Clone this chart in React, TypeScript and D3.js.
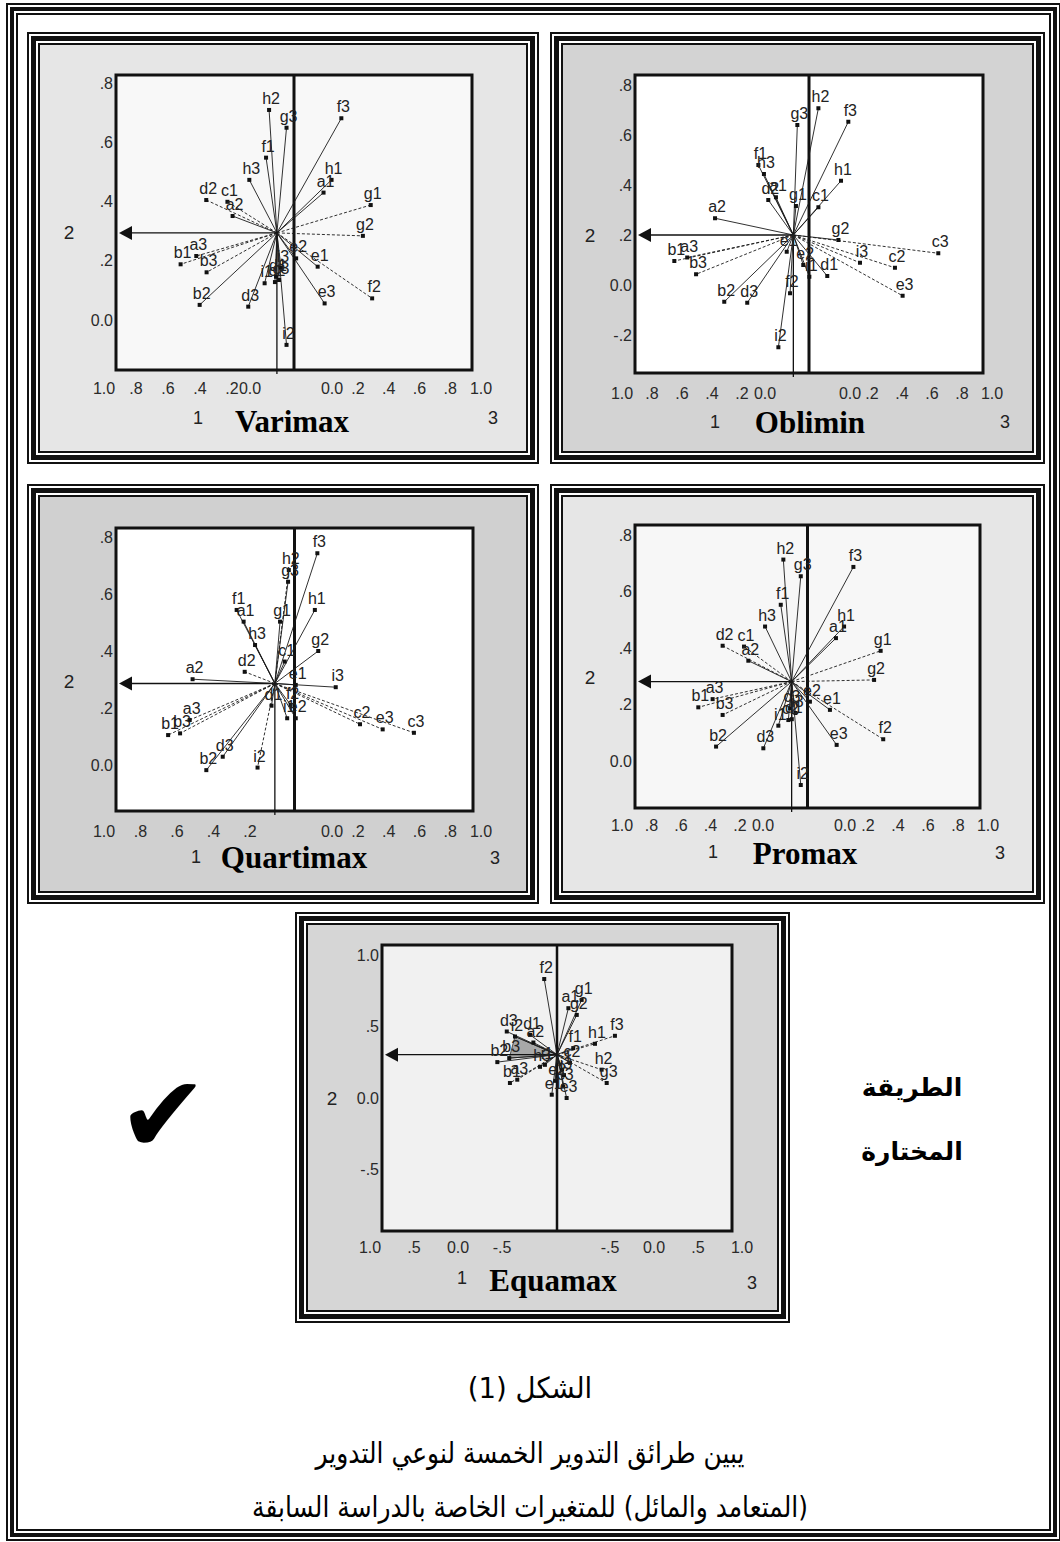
import React from "react";
import * as d3 from "d3";

type Pt = [string, number, number];

// loadings (x: horizontal position, y: value on axis 2)
const varimaxHub: [number, number] = [-0.096, 0.294];
const varimaxPts: Pt[] = [
  ["h2", -0.14, 0.709], ["g3", -0.042, 0.649], ["f3", 0.266, 0.681], ["f1", -0.157, 0.548],
  ["h3", -0.251, 0.473], ["h1", 0.211, 0.473], ["a1", 0.166, 0.43], ["d2", -0.493, 0.405],
  ["c1", -0.374, 0.399], ["a2", -0.345, 0.351], ["g1", 0.431, 0.388], ["g2", 0.387, 0.284],
  ["b1", -0.637, 0.188], ["a3", -0.549, 0.216], ["b3", -0.491, 0.161], ["b2", -0.53, 0.051],
  ["d3", -0.257, 0.045], ["i1", -0.165, 0.124], ["c2", -0.107, 0.128], ["d1", -0.101, 0.146],
  ["c3", -0.084, 0.135], ["i3", -0.073, 0.176], ["e2", 0.012, 0.208], ["e1", 0.133, 0.18],
  ["e3", 0.172, 0.056], ["f2", 0.439, 0.073], ["i2", -0.042, -0.084],
];
const varimaxDashed = ["g1", "g2", "f2", "b1", "a3", "c1", "d2", "b3"];

const obliminHub: [number, number] = [-0.09, 0.2];
const obliminPts: Pt[] = [
  ["h2", 0.054, 0.707], ["g3", -0.067, 0.64], ["f3", 0.226, 0.653], ["f1", -0.291, 0.48],
  ["h3", -0.259, 0.444], ["d2", -0.234, 0.34], ["a1", -0.19, 0.351], ["g1", -0.075, 0.316],
  ["c1", 0.054, 0.311], ["h1", 0.184, 0.417], ["a2", -0.54, 0.267], ["g2", 0.169, 0.18],
  ["i3", 0.293, 0.089], ["c2", 0.494, 0.069], ["c3", 0.743, 0.127], ["e3", 0.538, -0.043],
  ["d1", 0.105, 0.036], ["b1", -0.774, 0.096], ["a3", -0.7, 0.11], ["b3", -0.649, 0.043],
  ["b2", -0.487, -0.067], ["d3", -0.355, -0.071], ["f2", -0.109, -0.033], ["i2", -0.176, -0.249],
  ["e1", -0.128, 0.133], ["e2", -0.033, 0.08], ["i1", 0.002, 0.033],
];
const obliminDashed = ["b1", "a3", "b3", "c2", "e3", "i3", "c3"];

const quartimaxHub: [number, number] = [-0.11, 0.286];
const quartimaxPts: Pt[] = [
  ["f3", 0.128, 0.743], ["h2", -0.032, 0.684], ["g3", -0.036, 0.643], ["h1", 0.114, 0.544],
  ["f1", -0.324, 0.544], ["a1", -0.285, 0.503], ["g1", -0.081, 0.503], ["h3", -0.221, 0.421],
  ["c1", -0.055, 0.363], ["g2", 0.133, 0.4], ["d2", -0.279, 0.327], ["a2", -0.571, 0.301],
  ["i3", 0.231, 0.273], ["e1", 0.007, 0.281], ["c2", 0.367, 0.143], ["e3", 0.494, 0.125],
  ["c3", 0.669, 0.113], ["b1", -0.708, 0.105], ["b3", -0.641, 0.111], ["a3", -0.587, 0.158],
  ["d3", -0.402, 0.029], ["b2", -0.494, -0.018], ["i2", -0.207, -0.009], ["d1", -0.129, 0.208],
  ["i1", -0.041, 0.164], ["f2", -0.022, 0.211], ["e2", 0.007, 0.164],
];
const quartimaxDashed = ["b1", "b3", "a3", "c2", "e3", "c3", "d2", "i2", "h2"];

const promaxHub: [number, number] = [-0.092, 0.281];
const promaxPts: Pt[] = [
  ["h2", -0.14, 0.713], ["g3", -0.039, 0.654], ["f3", 0.266, 0.687], ["f1", -0.155, 0.553],
  ["h3", -0.246, 0.476], ["h1", 0.212, 0.476], ["a1", 0.165, 0.435], ["d2", -0.492, 0.408],
  ["c1", -0.368, 0.405], ["a2", -0.343, 0.355], ["g1", 0.424, 0.39], ["g2", 0.386, 0.287],
  ["b1", -0.633, 0.19], ["a3", -0.55, 0.219], ["b3", -0.492, 0.163], ["b2", -0.53, 0.051],
  ["d3", -0.256, 0.045], ["i1", -0.169, 0.125], ["c2", -0.111, 0.145], ["d1", -0.091, 0.148],
  ["c3", -0.101, 0.186], ["i3", -0.07, 0.17], ["e2", 0.014, 0.21], ["e1", 0.13, 0.181],
  ["e3", 0.169, 0.057], ["f2", 0.439, 0.077], ["i2", -0.039, -0.085],
];
const promaxDashed = ["g1", "g2", "f2", "b1", "a3", "c1", "d2", "b3"];

const equamaxHub: [number, number] = [0, 0.303];
const equamaxPts: Pt[] = [
  ["f2", -0.073, 0.832], ["a1", 0.065, 0.628], ["g1", 0.141, 0.686], ["g2", 0.113, 0.581],
  ["d3", -0.287, 0.465], ["i2", -0.24, 0.43], ["a2", -0.135, 0.388], ["d1", -0.154, 0.442],
  ["b2", -0.341, 0.251], ["b3", -0.273, 0.279], ["a3", -0.227, 0.128], ["b1", -0.269, 0.105],
  ["h1", 0.217, 0.379], ["f3", 0.331, 0.435], ["f1", 0.093, 0.349], ["h2", 0.255, 0.198],
  ["g3", 0.284, 0.105], ["e1", -0.03, 0.023], ["e3", 0.055, 0.0], ["c3", 0.036, 0.081],
  ["c1", 0.029, 0.198], ["c2", 0.074, 0.246], ["i1", -0.069, 0.232], ["h3", -0.097, 0.218],
  ["i3", 0.04, 0.16], ["e2", -0.01, 0.12],
];
const equamaxDashed = ["h2", "g3", "f3", "h1", "b1", "a3"];
const equamaxShade = ["i2", "b3"];

// tick labels
const yTicks08 = [0, 0.2, 0.4, 0.6, 0.8];
const yTicksOblimin = [-0.2, 0, 0.2, 0.4, 0.6, 0.8];
const yTicksEquamax = [-0.5, 0, 0.5, 1];
const axis1Ticks = [1, 0.8, 0.6, 0.4, 0.2];
const axis3Ticks = [0.2, 0.4, 0.6, 0.8, 1];
const equamaxAxis1 = [1, 0.5, 0, -0.5];
const equamaxAxis3 = [-0.5, 0, 0.5, 1];

const captionTitle = "الشكل (1)";
const captionLine1 = "يبين طرائق التدوير الخمسة لنوعي التدوير";
const captionLine2 = "(المتعامد والمائل) للمتغيرات الخاصة بالدراسة السابقة";
const chosenLine1 = "الطريقة";
const chosenLine2 = "المختارة";

const SANS = "'Liberation Sans', Arial, sans-serif";
const SERIF = "'Liberation Serif', 'Times New Roman', serif";
const ARABIC = "'DejaVu Sans', sans-serif";

// SPSS style: ".8", "-.2", "0.0", "1.0"
const fmt = (v: number) => {
  if (v === 0) return "0.0";
  const s = v < 0 ? "-" : "";
  const a = Math.abs(v);
  return a >= 1 ? s + a.toFixed(1) : s + a.toFixed(1).slice(1);
};

const Frame = ({ r, fill, w }: { r: number[]; fill: string; w: number[] }) => {
  // nested bands: thin, gap, thick, gap, thin
  const bands: [number, string][] = [
    [0, "#111"],
    [w[0], "#fff"],
    [w[1], "#111"],
    [w[2], "#fff"],
    [w[3], "#111"],
    [w[4], fill],
  ];
  return (
    <g>
      {bands.map(([i, c], k) => (
        <rect key={k} x={r[0] + i} y={r[1] + i} width={r[2] - r[0] - 2 * i}
          height={r[3] - r[1] - 2 * i} fill={c} />
      ))}
    </g>
  );
};

const Panel = ({ L, pts, hub, dashed, yTicks, left, right, title, shade, thin = true }: any) => {
  const [bx0, by0, bx1, by1] = L.box;
  const x = d3.scaleLinear().domain([-1, 1]).range([bx0, bx1]);
  const y = d3.scaleLinear().domain(L.yDom).range(L.yRange);
  const hx = x(hub[0]);
  const hy = y(hub[1]);
  const lx = d3.scalePoint<string>().domain(left.map(String)).range(L.left);
  const rx = d3.scalePoint<string>().domain(right.map(String)).range(L.right);
  const byName = new Map<string, Pt>(pts.map((p: Pt) => [p[0], p]));
  return (
    <g>
      <Frame r={L.frame} fill={L.bg} w={[2, 4, 9, 11, 13]} />
      <rect x={bx0} y={by0} width={bx1 - bx0} height={by1 - by0} fill={L.plot}
        stroke="#111" strokeWidth={3} />
      {shade && (
        <polygon
          points={[hub, ...shade.map((n: string) => byName.get(n)!.slice(1))]
            .map((p: any) => `${x(p[0])},${y(p[1])}`).join(" ")}
          fill="#a8a8a8" stroke="#333" strokeWidth={0.8} />
      )}
      <line x1={x(0)} x2={x(0)} y1={by0} y2={by1} stroke="#111" strokeWidth={thin ? 3 : 2.5} />
      {thin && <line x1={hx} x2={hx} y1={hy} y2={by1 + 4} stroke="#111" strokeWidth={1.3} />}
      <line x1={hx} x2={bx0 + 12} y1={hy} y2={hy} stroke="#111" strokeWidth={1.4} />
      <polygon points={`${bx0 + 3},${hy} ${bx0 + 16},${hy - 7} ${bx0 + 16},${hy + 7}`} fill="#111" />
      {pts.map((p: Pt) => (
        <line key={"s" + p[0]} x1={hx} y1={hy} x2={x(p[1])} y2={y(p[2])} stroke="#1a1a1a"
          strokeWidth={0.9} strokeDasharray={dashed.includes(p[0]) ? "3,2" : undefined} />
      ))}
      {pts.map((p: Pt) => (
        <rect key={"m" + p[0]} x={x(p[1]) - 2} y={y(p[2]) - 2} width={4} height={4} fill="#111" />
      ))}
      <g fontFamily={SANS} fontSize={16} fill="#222" textAnchor="middle">
        {pts.map((p: Pt) => (
          <text key={"t" + p[0]} x={x(p[1]) + 2} y={y(p[2]) - 6}>{p[0]}</text>
        ))}
      </g>
      <g fontFamily={SANS} fontSize={16} fill="#2a2a2a" dominantBaseline="central">
        {yTicks.map((t: number) => (
          <text key={"y" + t} x={bx0 - 3} y={y(t)} textAnchor="end">{fmt(t)}</text>
        ))}
        {left.map((t: number) => (
          <text key={"l" + t} x={lx(String(t))} y={L.tickY} textAnchor="middle">{fmt(t)}</text>
        ))}
        {L.leftZero != null && (
          <text x={L.leftZero} y={L.tickY} textAnchor="middle">{fmt(0)}</text>
        )}
        {right.map((t: number) => (
          <text key={"r" + t} x={rx(String(t))} y={L.tickY} textAnchor="middle">{fmt(t)}</text>
        ))}
        {L.rightZero != null && (
          <text x={L.rightZero} y={L.tickY} textAnchor="middle">{fmt(0)}</text>
        )}
      </g>
      <g fontFamily={SANS} fill="#222" dominantBaseline="central" textAnchor="middle">
        <text x={L.two[0]} y={L.two[1]} fontSize={19}>2</text>
        <text x={L.one[0]} y={L.one[1]} fontSize={18}>1</text>
        <text x={L.three[0]} y={L.three[1]} fontSize={18}>3</text>
      </g>
      <text x={L.title[0]} y={L.title[1]} fontFamily={SERIF} fontWeight="bold" fontSize={31}
        textAnchor="middle" dominantBaseline="central" fill="#000">{title}</text>
    </g>
  );
};

const layouts: Record<string, any> = {
  varimax: {
    frame: [27, 32, 539, 464], bg: "#e6e6e6", plot: "#f8f8f8", box: [116, 75, 472, 370],
    yDom: [0, 0.8], yRange: [320, 83], two: [69, 232], tickY: 388, left: [104, 232],
    leftZero: 250, right: [358, 481], rightZero: 332, one: [198, 418], title: [292, 421],
    three: [493, 418],
  },
  oblimin: {
    frame: [550, 32, 1045, 464], bg: "#d3d3d3", plot: "#ffffff", box: [635, 75, 983, 373],
    yDom: [0, 0.8], yRange: [285, 85], two: [590, 235], tickY: 393, left: [622, 742],
    leftZero: 765, right: [872, 992], rightZero: 850, one: [715, 422], title: [810, 422],
    three: [1005, 422],
  },
  quartimax: {
    frame: [27, 484, 539, 904], bg: "#d0d0d0", plot: "#ffffff", box: [116, 528, 473, 811],
    yDom: [0, 0.8], yRange: [765, 537], two: [69, 681], tickY: 831, left: [104, 250],
    leftZero: null, right: [358, 481], rightZero: 332, one: [196, 857], title: [294, 857],
    three: [495, 858],
  },
  promax: {
    frame: [550, 484, 1045, 904], bg: "#e6e6e6", plot: "#f7f7f7", box: [635, 525, 980, 808],
    yDom: [0, 0.8], yRange: [761, 535], two: [590, 677], tickY: 825, left: [622, 740],
    leftZero: 763, right: [868, 988], rightZero: 845, one: [713, 852], title: [805, 853],
    three: [1000, 853],
  },
  equamax: {
    frame: [295, 912, 790, 1323], bg: "#d6d6d6", plot: "#f1f1f1", box: [382, 945, 732, 1231],
    yDom: [0, 1], yRange: [1098, 955], two: [332, 1098], tickY: 1247, left: [370, 502],
    leftZero: null, right: [610, 742], rightZero: null, one: [462, 1278], title: [553, 1280],
    three: [752, 1283],
  },
};

export default function App() {
  const W = 1060;
  const H = 1542;
  return (
    <div style={{ position: "absolute", left: 0, top: 0 }}>
      <svg width={W} height={H} style={{ display: "block", background: "#fff" }}>
        <Frame r={[6, 3, 1061, 1541]} fill="#fff" w={[2, 4, 8, 10, 12]} />
        <Panel L={layouts.varimax} pts={varimaxPts} hub={varimaxHub} dashed={varimaxDashed}
          yTicks={yTicks08} left={axis1Ticks} right={axis3Ticks} title="Varimax" />
        <Panel L={layouts.oblimin} pts={obliminPts} hub={obliminHub} dashed={obliminDashed}
          yTicks={yTicksOblimin} left={axis1Ticks} right={axis3Ticks} title="Oblimin" />
        <Panel L={layouts.quartimax} pts={quartimaxPts} hub={quartimaxHub} dashed={quartimaxDashed}
          yTicks={yTicks08} left={axis1Ticks} right={axis3Ticks} title="Quartimax" />
        <Panel L={layouts.promax} pts={promaxPts} hub={promaxHub} dashed={promaxDashed}
          yTicks={yTicks08} left={axis1Ticks} right={axis3Ticks} title="Promax" />
        <Panel L={layouts.equamax} pts={equamaxPts} hub={equamaxHub} dashed={equamaxDashed}
          yTicks={yTicksEquamax} left={equamaxAxis1} right={equamaxAxis3} title="Equamax"
          shade={equamaxShade} thin={false} />
        <text x={163} y={1114} fontFamily={ARABIC} fontSize={108} textAnchor="middle"
          dominantBaseline="central" fill="#000">✔</text>
        <g fontFamily={ARABIC} fontWeight="bold" fontSize={25} textAnchor="middle" fill="#000"
          direction="rtl">
          <text x={912} y={1096}>{chosenLine1}</text>
          <text x={912} y={1160}>{chosenLine2}</text>
        </g>
        <g fontFamily={ARABIC} fontSize={29} textAnchor="middle" fill="#000" direction="rtl">
          <text transform="translate(530,1398) scale(0.95,1)">{captionTitle}</text>
          <text transform="translate(530,1463) scale(0.86,1)">{captionLine1}</text>
          <text transform="translate(530,1517) scale(0.86,1)">{captionLine2}</text>
        </g>
      </svg>
    </div>
  );
}
